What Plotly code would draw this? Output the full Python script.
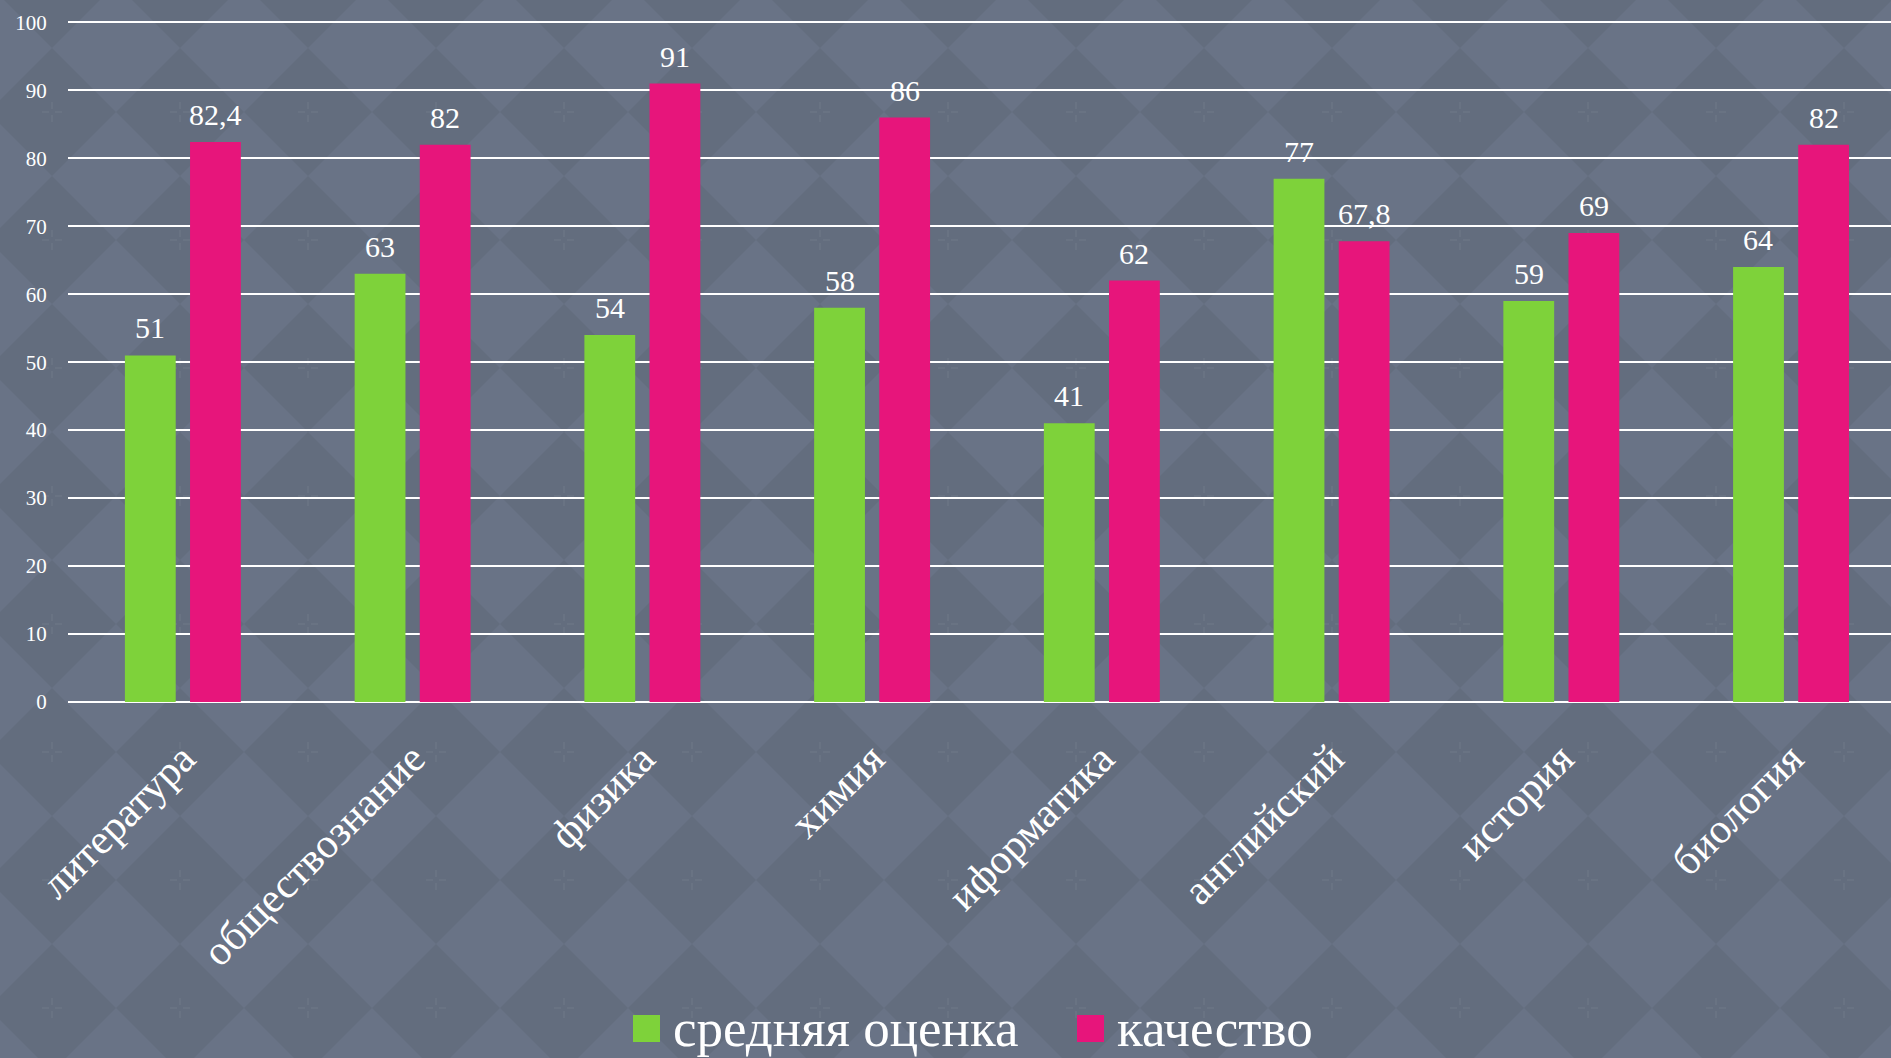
import base64
import plotly.graph_objects as go

categories = ["литература", "обществознание", "физика", "химия", "иформатика", "английский", "история", "биология"]
avg_score = [51, 63, 54, 58, 41, 77, 59, 64]
quality = [82.4, 82, 91, 86, 62, 67.8, 69, 82]
series_names = ["средняя оценка", "качество"]
series_colors = ["#7ed23a", "#e7157b"]
y_ticks = [0, 10, 20, 30, 40, 50, 60, 70, 80, 90, 100]

FONT = "Liberation Serif"
W, H = 1891, 1058
ML, MR, MT, MB = 68, 0, 21, 356
PW, PH = W - ML - MR, H - MT - MB
X_RANGE = [-0.5, len(categories) - 0.565]   # plot area runs slightly past the right edge
BARGAP = 0.433
CATW = PW / (X_RANGE[1] - X_RANGE[0])
SLOT_OFF = (1 - BARGAP) * CATW / 4  # px offset from category centre to each bar centre

# background: 45-degree checkerboard of diamonds with faint sparkles
svg = f'''<svg xmlns="http://www.w3.org/2000/svg" width="{W}" height="{H}">
<defs><pattern id="p" x="-12" y="48" width="128" height="128" patternUnits="userSpaceOnUse">
<rect width="128" height="128" fill="#697386"/>
<polygon points="64,0 128,64 64,128 0,64" fill="#636d7e"/>
<g stroke="#76818f" stroke-width="1.3" opacity="0.45">
<line x1="54" y1="64" x2="61" y2="64"/><line x1="67" y1="64" x2="74" y2="64"/>
<line x1="64" y1="54" x2="64" y2="61"/><line x1="64" y1="67" x2="64" y2="74"/>
</g></pattern></defs>
<rect width="{W}" height="{H}" fill="url(#p)"/></svg>'''
bg_uri = "data:image/svg+xml;base64," + base64.b64encode(svg.encode()).decode()

def fmt(v):
    return ("%g" % v).replace(".", ",")

fig = go.Figure()
for name, vals, col in zip(series_names, [avg_score, quality], series_colors):
    fig.add_trace(go.Bar(x=categories, y=vals, name=name,
                         marker=dict(color=col, line=dict(width=0)), showlegend=False,
                         hoverinfo="skip"))

annotations = []
for vals, sign in [(avg_score, -1), (quality, 1)]:
    for c, v in zip(categories, vals):
        annotations.append(dict(x=c, y=v, xref="x", yref="y", text=fmt(v), showarrow=False,
                                xanchor="center", yanchor="bottom", xshift=sign * SLOT_OFF, yshift=9,
                                font=dict(family=FONT, size=30, color="white")))

# manual legend (large square markers)
def px2paper(px, py):
    return (px - ML) / PW, (H - MB - py) / PH

shapes = []
legend_items = [(633, series_names[0], series_colors[0]), (1077, series_names[1], series_colors[1])]
for lx, name, col in legend_items:
    x0, y0 = px2paper(lx, 1015)
    x1, y1 = px2paper(lx + 27, 1042)
    shapes.append(dict(type="rect", xref="paper", yref="paper", x0=x0, x1=x1, y0=y1, y1=y0,
                       fillcolor=col, line=dict(width=0), layer="above"))
    tx, ty = px2paper(lx + 38, 1028)
    annotations.append(dict(x=tx, y=ty, xref="paper", yref="paper", text=name, showarrow=False,
                            xanchor="left", yanchor="middle",
                            font=dict(family=FONT, size=53, color="white")))

fig.update_layout(
    width=W, height=H,
    paper_bgcolor="#666f81", plot_bgcolor="rgba(0,0,0,0)",
    margin=dict(l=ML, r=MR, t=MT, b=MB),
    barmode="group", bargap=BARGAP, bargroupgap=0.22,
    font=dict(family=FONT, color="white"),
    showlegend=False,
    images=[dict(source=bg_uri, xref="paper", yref="paper", x=-ML / PW, y=1 + MT / PH,
                 sizex=W / PW, sizey=H / PH, xanchor="left", yanchor="top",
                 sizing="stretch", layer="below")],
    shapes=shapes,
    annotations=annotations,
    xaxis=dict(range=X_RANGE, tickangle=-45, tickfont=dict(family=FONT, size=42, color="white"),
               ticks="outside", ticklen=14, tickcolor="rgba(0,0,0,0)",
               showgrid=False, showline=False),
    yaxis=dict(range=[0, 100.2], tickvals=y_ticks, tickfont=dict(family=FONT, size=21, color="white"),
               showgrid=True, gridcolor="white", gridwidth=2,
               zeroline=True, zerolinecolor="white", zerolinewidth=2,
               ticks="outside", ticklen=16, tickcolor="rgba(0,0,0,0)", showline=False),
)

fig.write_html("out.html", config={"displayModeBar": False},
               post_script="document.body.style.margin='0';document.body.style.background='#666f81';document.body.style.overflow='hidden';")
